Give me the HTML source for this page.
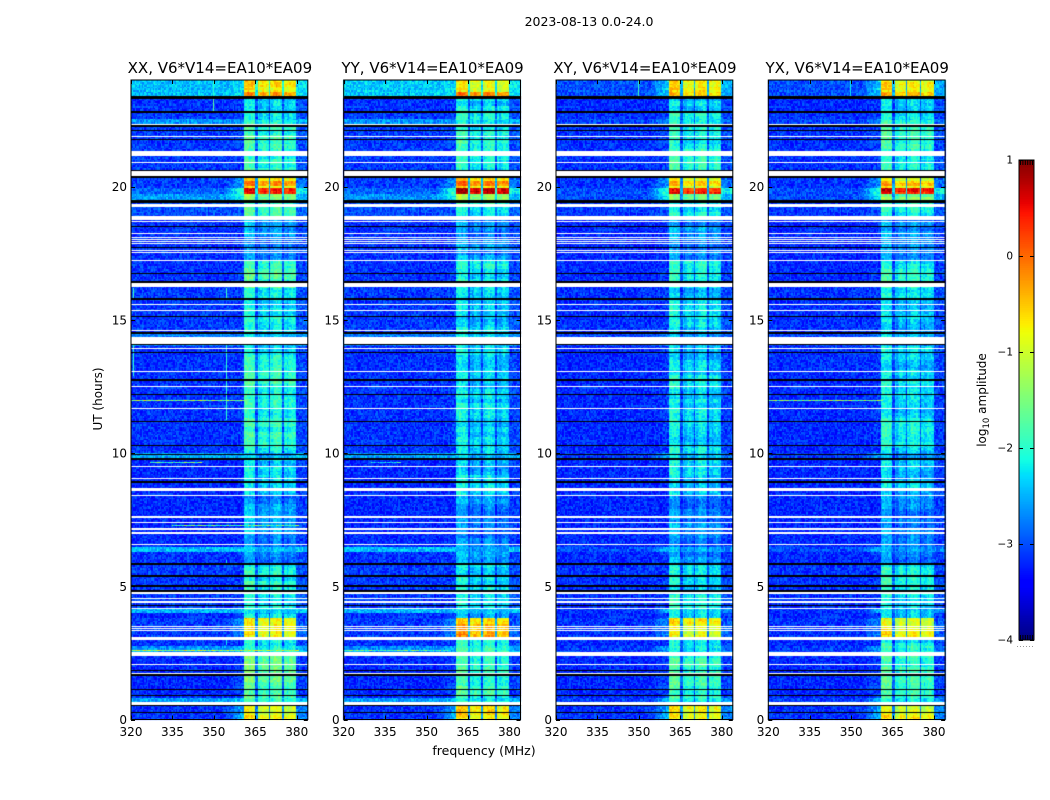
<!DOCTYPE html>
<html lang="en">
<head>
<meta charset="utf-8">
<title>2023-08-13 0.0-24.0</title>
<style>
  html, body { margin: 0; padding: 0; background: #fff; }
  #figure { position: relative; width: 1050px; height: 800px; overflow: hidden; background: #fff; }
  #heat, #axes { position: absolute; left: 0; top: 0; }
  text { font-family: "DejaVu Sans", "Liberation Sans", sans-serif; fill: #000; }
</style>
</head>
<body>
<div id="figure">
  <canvas id="heat" width="1050" height="800"></canvas>
  <svg id="axes" width="1050" height="800" viewBox="0 0 1050 800" xmlns="http://www.w3.org/2000/svg"></svg>
</div>
<script>
/* ---------- data ---------- */
const panelTitles = ['XX, V6*V14=EA10*EA09', 'YY, V6*V14=EA10*EA09', 'XY, V6*V14=EA10*EA09', 'YX, V6*V14=EA10*EA09'];
const panelLefts = [131, 343.7, 556, 768.3];
const xTicks = [320, 335, 350, 365, 380];
const yTicks = [0, 5, 10, 15, 20];
const colorTicks = [-4, -3, -2, -1, 0, 1];

/* lower edge (UT hours) of each time segment */
const segmentStart = [0, 0.54, 0.85, 2.39, 2.75, 3.05, 3.85, 4.0, 4.2, 5.8, 6.3, 6.5, 8.4, 9.8, 10, 13, 14.05, 14.6, 16.2, 17.2, 18.8, 19.49, 19.77, 19.97, 20.07, 20.2, 20.4, 22.3, 22.55, 22.83, 23.35, 23.6];

/* off-band log10 amplitude per segment */
const backgroundXX = [-3.15, -2.6, -3.2, -2.65, -3.15, -3.1, -3.2, -2.5, -3.1, -3.15, -2.45, -3.2, -3.2, -2.55, -3.15, -3.15, -2.75, -3.1, -3.15, -3.15, -3.0, -2.6, -2.9, -3.1, -3.1, -3.1, -3.1, -2.65, -3.1, -3.15, -2.45, -2.45];
const backgroundYY = [-3.15, -2.65, -3.2, -2.7, -3.15, -3.1, -3.15, -2.5, -3.1, -3.15, -2.45, -3.2, -3.2, -2.6, -3.15, -3.15, -2.8, -3.1, -3.15, -3.15, -3.0, -2.65, -2.9, -3.1, -3.1, -3.1, -3.1, -2.65, -3.1, -3.15, -2.4, -2.4];
const backgroundXY = [-3.15, -3.1, -3.2, -3.1, -3.2, -3.15, -3.2, -3.15, -3.15, -3.2, -3.0, -3.2, -3.2, -3.1, -3.2, -3.2, -3.05, -3.15, -3.2, -3.2, -3.1, -3.0, -3.0, -3.15, -3.15, -3.15, -3.15, -3.05, -3.15, -3.2, -3.0, -3.0];
const backgroundYX = [-3.15, -3.1, -3.2, -3.1, -3.2, -3.15, -3.2, -3.15, -3.15, -3.2, -3.0, -3.2, -3.2, -3.1, -3.2, -3.15, -3.05, -3.15, -3.2, -3.2, -3.1, -3.0, -3.0, -3.15, -3.15, -3.15, -3.15, -3.05, -3.15, -3.2, -3.0, -3.0];

/* in-band (360.8-380.2 MHz) log10 amplitude per segment */
const bandXX = [-0.85, -1.95, -1.8, -2.0, -2.1, -0.85, -2.3, -2.3, -2.15, -2.7, -2.5, -2.7, -2.35, -2.5, -2.05, -2.2, -2.4, -2.25, -1.85, -2.75, -2.0, -1.4, 0.4, -0.9, -0.25, -0.8, -2.0, -2.15, -2.1, -2.35, -0.25, -0.8];
const bandYY = [-0.75, -2.1, -1.95, -2.1, -2.2, -0.6, -2.4, -2.4, -2.3, -2.7, -2.5, -2.75, -2.45, -2.5, -2.35, -2.4, -2.5, -2.4, -2.2, -2.7, -2.2, -1.5, 0.5, -0.9, -0.3, -0.8, -2.1, -2.2, -2.2, -2.35, -0.3, -0.8];
const bandXY = [-0.9, -2.15, -1.95, -2.15, -2.25, -0.9, -2.4, -2.4, -2.25, -2.7, -2.6, -2.75, -2.4, -2.55, -2.3, -2.4, -2.5, -2.4, -2.15, -2.7, -2.15, -1.6, 0.35, -0.95, -0.5, -0.9, -2.1, -2.2, -2.15, -2.35, -0.55, -0.85];
const bandYX = [-0.9, -2.15, -1.95, -2.15, -2.25, -0.9, -2.4, -2.4, -2.25, -2.7, -2.6, -2.75, -2.4, -2.55, -2.3, -2.4, -2.5, -2.4, -2.15, -2.7, -2.15, -1.6, 0.4, -0.95, -0.5, -0.9, -2.1, -2.2, -2.15, -2.35, -0.55, -0.85];

/* level reached by the shoulder around the band, per segment */
const shoulderLevel = [-2.5, -2.4, -3.1, -2.6, -3.1, -2.7, -3.1, -2.5, -3.1, -3.1, -2.45, -3.2, -3.2, -2.55, -3.1, -3.1, -2.75, -3.1, -3.1, -3.15, -3.0, -2.2, -1.9, -2.6, -2.6, -2.6, -3.1, -2.65, -3.1, -3.1, -2.3, -2.3];

/* spectral structure: sub-band edges (MHz), relative gain, channel shape across the band (0.5 MHz steps from the first edge) */
const subbandStart = [360.8, 365.8, 370.6, 375.7];
const subbandEnd = [365.0, 370.0, 375.0, 380.2];
const subbandGain = [0.12, -0.05, 0.05, -0.05];
const bandChannelShape = [0.05, 0.12, 0.15, 0.1, 0.05, 0.1, 0.08, 0.02, -0.12, 0, 0, -0.2, -0.08, 0.06, 0.1, 0.06, 0, -0.06, -0.15, 0, -0.15, 0, 0.1, 0.12, 0.06, 0.1, 0.05, -0.02, -0.12, 0, 0, -0.15, -0.05, 0.05, 0.1, 0.08, 0.02, -0.02, -0.1, -0.18];

/* flagged rows (UT hours): white = no data */
const whiteStart = [0.54, 1.73, 2.05, 2.39, 2.98, 3.32, 3.40, 3.47, 4.15, 4.39, 4.52, 4.71, 6.55, 6.98, 7.13, 7.37, 7.56, 8.41, 8.59, 9.03, 9.46, 11.65, 12.49, 13.04, 13.92, 14.11, 14.59, 15.33, 15.56, 16.23, 17.21, 17.51, 17.58, 17.84, 17.91, 17.99, 18.07, 18.22, 18.67, 18.75, 19.23, 20.40, 20.90, 21.15, 21.86, 22.30];
const whiteEnd = [0.66, 1.76, 2.08, 2.53, 3.10, 3.36, 3.43, 3.51, 4.20, 4.43, 4.56, 4.78, 6.59, 7.02, 7.17, 7.41, 7.64, 8.44, 8.67, 9.06, 9.53, 11.69, 12.53, 13.08, 13.95, 14.37, 14.62, 15.37, 15.59, 16.38, 17.24, 17.54, 17.62, 17.88, 17.95, 18.03, 18.11, 18.26, 18.71, 18.91, 19.36, 20.58, 20.94, 21.33, 21.90, 22.35];

/* flagged rows (UT hours): black = zero amplitude */
const blackStart = [0.25, 0.51, 0.87, 1.11, 1.65, 1.82, 4.26, 4.78, 4.99, 5.35, 5.80, 8.89, 9.74, 9.93, 10.26, 11.15, 12.16, 12.72, 13.77, 14.05, 14.45, 15.10, 15.76, 16.40, 16.72, 17.70, 18.48, 19.40, 20.34, 20.58, 21.73, 22.09, 22.24, 22.77, 23.29];
const blackEnd = [0.29, 0.54, 0.91, 1.15, 1.69, 1.86, 4.30, 4.86, 5.05, 5.42, 5.87, 8.95, 9.81, 9.98, 10.32, 11.22, 12.20, 12.76, 13.81, 14.09, 14.54, 15.14, 15.80, 16.44, 16.76, 17.73, 18.52, 19.48, 20.40, 20.62, 21.77, 22.12, 22.31, 22.83, 23.40];

/* narrow-band interference (vertical streaks) */
const streakPanel = [0, 0, 0, 0, 0, 0, 0, 0, 2, 3];
const streakFreq = [354.5, 354.5, 320.6, 320.6, 349.6, 349.6, 354.5, 354.5, 349.6, 349.6];
const streakStart = [11.24, 15.8, 15.8, 12.9, 22.8, 23.4, 5.9, 2.8, 23.4, 23.4];
const streakEnd = [14.05, 16.2, 16.2, 14.05, 23.3, 24, 6.0, 3.0, 24, 24];
const streakLevel = [-2.0, -1.9, -1.9, -2.0, -1.7, -2.0, -2.2, -2.2, -1.9, -2.2];

/* wide-band interference (horizontal streaks) */
const burstPanel = [0, 1, 0, 1, 2, 3, 0, 3, 0, 1, 0];
const burstHour = [2.6, 2.6, 18.05, 18.05, 18.05, 18.05, 12.0, 12.0, 9.65, 9.65, 7.29];
const burstFrom = [320, 320, 320, 320, 320, 320, 320, 320, 327, 330, 335];
const burstTo = [380, 358, 365, 365, 365, 365, 361, 361, 345, 340, 380];
const burstLevel = [-1.2, -1.7, -1.0, -1.4, -1.5, -1.4, -1.4, -1.5, -1.7, -2.2, -1.7];

/* hand-written speckle tile giving the heatmap its fine grain */
const speckleTile = [0.3, -0.5, 0.1, 0.8, -0.2, -0.9, 0.5, 0.0, -0.4, 1.0, -0.7, 0.2, 0.6, -1.0, 0.4, -0.1, 0.9, -0.6, -0.3, 0.7, 0.1, -0.8, 0.35, -0.15, 1.0, -0.45, 0.55, -0.95, 0.05, 0.65, -0.55];

const backgroundSeries = [backgroundXX, backgroundYY, backgroundXY, backgroundYX];
const bandSeries = [bandXX, bandYY, bandXY, bandYX];

/* ---------- axis functions ---------- */
const panelWidth = 176.8, plotTop = 80, plotBottom = 719.5;
const channelCount = 128, rowCount = 400;
const freqMin = 320, freqMax = 384, hourMax = 24;
const barLeft = 1019, barRight = 1034, barTop = 160, barBottom = 640;
const xScale = (panel, f) => panelLefts[panel] + (f - freqMin) / (freqMax - freqMin) * panelWidth;
const yScale = h => plotBottom - h / hourMax * (plotBottom - plotTop);
const barScale = v => barBottom - (v + 4) / 5 * (barBottom - barTop);

/* jet colormap */
function ramp(knots, t) {
  for (let i = 1; i < knots.length; i++) {
    if (t <= knots[i][0]) {
      const a = knots[i - 1], b = knots[i];
      return a[1] + (b[1] - a[1]) * (t - a[0]) / (b[0] - a[0]);
    }
  }
  return knots[knots.length - 1][1];
}
const redKnots = [[0, 0], [0.35, 0], [0.66, 1], [0.89, 1], [1, 0.5]];
const greenKnots = [[0, 0], [0.125, 0], [0.375, 1], [0.64, 1], [0.91, 0], [1, 0]];
const blueKnots = [[0, 0.5], [0.11, 1], [0.34, 1], [0.65, 0], [1, 0]];
const palette = [];
for (let i = 0; i < 256; i++) {
  const t = i / 255;
  palette.push('rgb(' + Math.round(255 * ramp(redKnots, t)) + ',' + Math.round(255 * ramp(greenKnots, t)) + ',' + Math.round(255 * ramp(blueKnots, t)) + ')');
}
const colorFor = v => palette[Math.max(0, Math.min(255, Math.round((v + 4) / 5 * 255)))];

/* ---------- heatmap ---------- */
const ctx = document.getElementById('heat').getContext('2d');

function segmentIndex(h) {
  let s = 0;
  while (s + 1 < segmentStart.length && segmentStart[s + 1] <= h) s++;
  return s;
}

function cellLevel(panel, seg, f) {
  const bg = backgroundSeries[panel][seg], band = bandSeries[panel][seg];
  if (f >= subbandEnd[3]) return Math.max(bg + 0.12, shoulderLevel[seg] - 0.25);
  if (f < 354) return bg;
  if (f < subbandStart[0]) {
    const w = (f - 354) / (subbandStart[0] - 354);
    return bg + Math.max(0, shoulderLevel[seg] - bg) * w;
  }
  for (let b = 0; b < 4; b++) {
    if (f >= subbandStart[b] && f < subbandEnd[b]) {
      return band + subbandGain[b] + bandChannelShape[Math.floor((f - subbandStart[0]) / 0.5)];
    }
  }
  return 0.8 * bg + 0.2 * band;
}

function speckle(ch, row) {
  return speckleTile[(ch * 7 + row * 13 + (ch * row) % 11) % speckleTile.length];
}

function inBand(f) {
  return f >= subbandStart[0] && f < subbandEnd[3];
}

function fillBand(panel, h0, h1, color) {
  const L = xScale(panel, freqMin), R = xScale(panel, freqMax);
  const top = Math.round(yScale(h1));
  const bot = Math.max(top + 1, Math.round(yScale(h0)));
  ctx.fillStyle = color;
  ctx.fillRect(Math.round(L), top, Math.round(R) - Math.round(L), bot - top);
}

panelTitles.forEach((title, panel) => {
  const dF = (freqMax - freqMin) / channelCount, dH = hourMax / rowCount;
  for (let row = 0; row < rowCount; row++) {
    const hLow = row * dH, seg = segmentIndex(hLow + dH / 2);
    const top = Math.floor(yScale(hLow + dH)), bot = Math.ceil(yScale(hLow));
    const rowDrift = 0.18 * speckleTile[(Math.floor(row / 3) * 5 + panel) % speckleTile.length];
    for (let ch = 0; ch < channelCount; ch++) {
      const f = freqMin + ch * dF, mid = f + dF / 2;
      const left = Math.floor(xScale(panel, f)), right = Math.ceil(xScale(panel, f + dF));
      const grain = inBand(mid) ? 0.24 * speckle(ch + panel, row) + rowDrift : 0.3 * speckle(ch + panel, row);
      ctx.fillStyle = colorFor(cellLevel(panel, seg, mid) + grain);
      ctx.fillRect(left, top, right - left, bot - top);
    }
  }
  streakFreq.forEach((f, i) => {
    if (streakPanel[i] !== panel) return;
    const top = yScale(streakEnd[i]);
    ctx.fillStyle = colorFor(streakLevel[i]);
    ctx.fillRect(Math.round(xScale(panel, f)), Math.round(top), 1, Math.round(yScale(streakStart[i]) - top));
  });
  burstHour.forEach((h, i) => {
    if (burstPanel[i] !== panel) return;
    for (let ch = 0; ch < channelCount; ch++) {
      const f = freqMin + ch * dF;
      if (f < burstFrom[i] || f > burstTo[i]) continue;
      const left = Math.floor(xScale(panel, f)), right = Math.ceil(xScale(panel, f + dF));
      ctx.fillStyle = colorFor(burstLevel[i] + 0.65 * speckle(ch, 3));
      ctx.fillRect(left, Math.round(yScale(h)), right - left, 1);
    }
  });
  blackStart.forEach((h, i) => fillBand(panel, h, blackEnd[i], '#000'));
  whiteStart.forEach((h, i) => fillBand(panel, h, whiteEnd[i], '#fff'));
});

/* colorbar gradient */
for (let y = barTop; y < barBottom; y++) {
  ctx.fillStyle = colorFor(-4 + (barBottom - y - 0.5) / (barBottom - barTop) * 5);
  ctx.fillRect(barLeft, y, barRight - barLeft, 1);
}

/* ---------- axes ---------- */
const svg = document.getElementById('axes');
const NS = 'http://www.w3.org/2000/svg';
function make(tag, attrs, text) {
  const el = document.createElementNS(NS, tag);
  for (const k in attrs) el.setAttribute(k, attrs[k]);
  if (text !== undefined) el.textContent = text;
  svg.appendChild(el);
  return el;
}
function tick(x1, y1, x2, y2) {
  return make('line', { x1, y1, x2, y2, stroke: '#000', 'stroke-width': 1 });
}

const figTitle = make('text', { x: 589, y: 26, 'font-size': 12.5, 'text-anchor': 'middle' }, '2023-08-13 0.0-24.0');



panelTitles.forEach((title, panel) => {
  const L = panelLefts[panel], R = L + panelWidth;
  const frame = make('rect', { x: L, y: plotTop, width: panelWidth, height: plotBottom - plotTop, fill: 'none', stroke: '#000', 'stroke-width': 1 });
  
  

  const titleEl = make('text', { x: L + panelWidth / 2 + 0.5, y: 73, 'font-size': 15, 'text-anchor': 'middle' }, title);
  
  

  xTicks.forEach(f => {
    const px = Math.round(xScale(panel, f)) + 0.5;
    const lower = tick(px, plotBottom, px, plotBottom - 4);
    
    
    const upper = tick(px, plotTop, px, plotTop + 4);
    
    
    const label = make('text', { x: xScale(panel, f), y: 736, 'font-size': 12, 'text-anchor': 'middle' }, String(f));
    
    
  });

  yTicks.forEach(h => {
    const py = Math.round(yScale(h)) + 0.5;
    const leftTick = tick(L, py, L + 4, py);
    
    
    const rightTick = tick(R, py, R - 4, py);
    
    
    const label = make('text', { x: L - 4, y: yScale(h) + 4.5, 'font-size': 12, 'text-anchor': 'end' }, String(h));
    
    
  });
});

const xTitle = make('text', { x: 484, y: 755, 'font-size': 12.5, 'text-anchor': 'middle' }, 'frequency (MHz)');



const yTitle = make('text', { x: 0, y: 0, 'font-size': 12, 'text-anchor': 'middle', transform: 'translate(102 399) rotate(-90)' }, 'UT (hours)');



/* colorbar furniture */
const barFrame = make('rect', { x: barLeft, y: barTop, width: barRight - barLeft, height: barBottom - barTop, fill: 'none', stroke: '#000', 'stroke-width': 1 });



colorTicks.forEach(v => {
  const py = Math.round(barScale(v)) + 0.5;
  const a = tick(barLeft, py, barLeft + 4, py);
  
  
  const b = tick(barRight, py, barRight - 4, py);
  
  
  const label = make('text', { x: 1013, y: barScale(v) + 3.5, 'font-size': 10.5, 'text-anchor': 'end' }, v < 0 ? '\u2212' + Math.abs(v) : String(v));
  
  
});

[0, 1, 2, 3, 4, 5].forEach(i => {
  const px = barLeft + 1.5 + i * 2.4;
  const up = tick(px, barTop, px, barTop + 5);
  
  
  const low = tick(px, barBottom, px, barBottom - 5);
  
  
  const dot = make('rect', { x: barLeft - 2 + i * 3, y: 646, width: 1, height: 1, fill: '#999' });
  
  
});

const barTitle = make('text', { x: 0, y: 0, 'font-size': 12, 'text-anchor': 'middle', transform: 'translate(986 400) rotate(-90)' });


const logPart = document.createElementNS(NS, 'tspan');
logPart.textContent = 'log';
barTitle.appendChild(logPart);
const subPart = document.createElementNS(NS, 'tspan');
subPart.setAttribute('font-size', '8.5');
subPart.setAttribute('dy', '3');
subPart.textContent = '10';
barTitle.appendChild(subPart);
const restPart = document.createElementNS(NS, 'tspan');
restPart.setAttribute('dy', '-3');
restPart.textContent = ' amplitude';
barTitle.appendChild(restPart);
</script>
</body>
</html>
